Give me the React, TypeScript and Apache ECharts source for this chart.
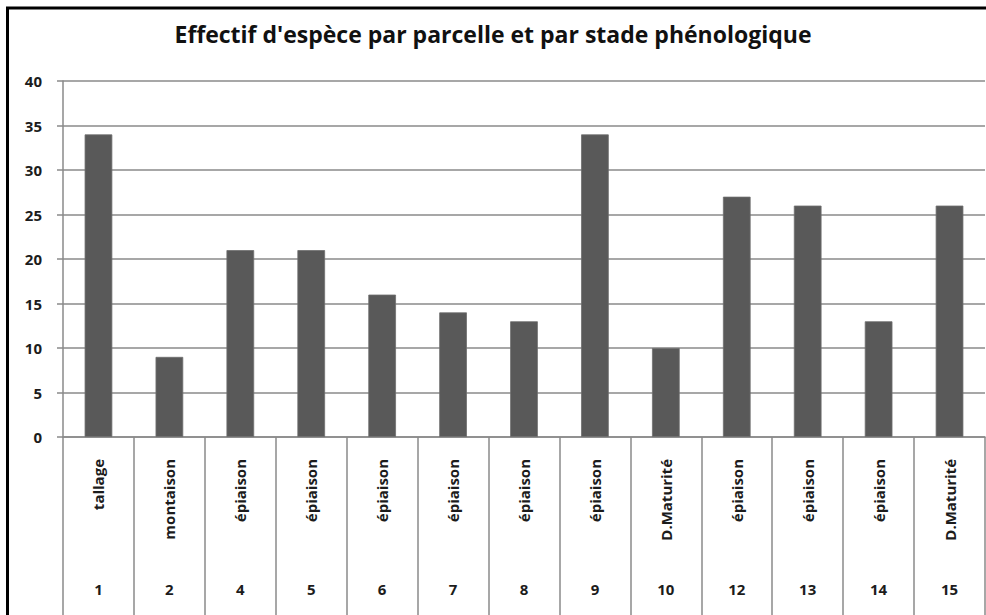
import React, { useEffect, useRef } from "react";
import * as echarts from "echarts";

// Parcel numbers, phenological stage per parcel, and species count per parcel
const parcelles = ["1", "2", "4", "5", "6", "7", "8", "9", "10", "12", "13", "14", "15"];
const stades = [
  "tallage",
  "montaison",
  "épiaison",
  "épiaison",
  "épiaison",
  "épiaison",
  "épiaison",
  "épiaison",
  "D.Maturité",
  "épiaison",
  "épiaison",
  "épiaison",
  "D.Maturité",
];
const effectifs = [34, 9, 21, 21, 16, 14, 13, 34, 10, 27, 26, 13, 26];

const FONT = "'Open Sans', 'Noto Sans', sans-serif";
const GRID = "#8a8a8a";
const TEXT = "#1c1c1c";

export default function App() {
  const ref = useRef<HTMLDivElement>(null);

  useEffect(() => {
    if (!ref.current) return;
    const chart = echarts.init(ref.current, null, { renderer: "svg" });
    chart.setOption({
      animation: false,
      backgroundColor: "#ffffff",
      title: {
        text: "Effectif d'espèce par parcelle et par stade phénologique",
        left: "center",
        top: 17,
        textStyle: {
          fontFamily: FONT,
          fontSize: 23,
          fontWeight: "bold",
          color: "#111111",
        },
      },
      graphic: [
        {
          type: "rect",
          shape: { x: 7.5, y: 8, width: 1000, height: 700 },
          style: { fill: "none", stroke: "#000000", lineWidth: 3 },
          silent: true,
        },
      ],
      grid: { left: 63, right: 1, top: 81, bottom: 178 },
      yAxis: {
        type: "value",
        min: 0,
        max: 40,
        interval: 5,
        axisLine: { show: true, lineStyle: { color: GRID, width: 1.5 } },
        axisTick: { show: true, length: 6, lineStyle: { color: GRID, width: 1.5 } },
        splitLine: { show: true, lineStyle: { color: GRID, width: 1.5 } },
        axisLabel: {
          margin: 21,
          fontFamily: FONT,
          fontSize: 15,
          fontWeight: "bold",
          color: TEXT,
        },
      },
      xAxis: [
        {
          type: "category",
          data: stades,
          position: "bottom",
          axisLine: { show: true, lineStyle: { color: GRID, width: 1.5 } },
          axisTick: {
            show: true,
            interval: 0,
            length: 190,
            lineStyle: { color: GRID, width: 1.5 },
          },
          axisLabel: {
            interval: 0,
            rotate: 90,
            margin: 22,
            fontFamily: FONT,
            fontSize: 15,
            fontWeight: "bold",
            color: TEXT,
          },
        },
        {
          type: "category",
          data: parcelles,
          position: "bottom",
          axisLine: { show: false },
          axisTick: { show: false },
          axisLabel: {
            interval: 0,
            margin: 144,
            fontFamily: FONT,
            fontSize: 15,
            fontWeight: "bold",
            color: TEXT,
          },
        },
      ],
      series: [
        {
          type: "bar",
          xAxisIndex: 0,
          data: effectifs,
          barWidth: "39%",
          itemStyle: { color: "#595959", borderColor: "#6e6e6e", borderWidth: 0.8 },
        },
      ],
    });
    return () => chart.dispose();
  }, []);

  return (
    <div
      ref={ref}
      style={{ position: "fixed", left: 0, top: 0, width: 986, height: 615 }}
    />
  );
}
